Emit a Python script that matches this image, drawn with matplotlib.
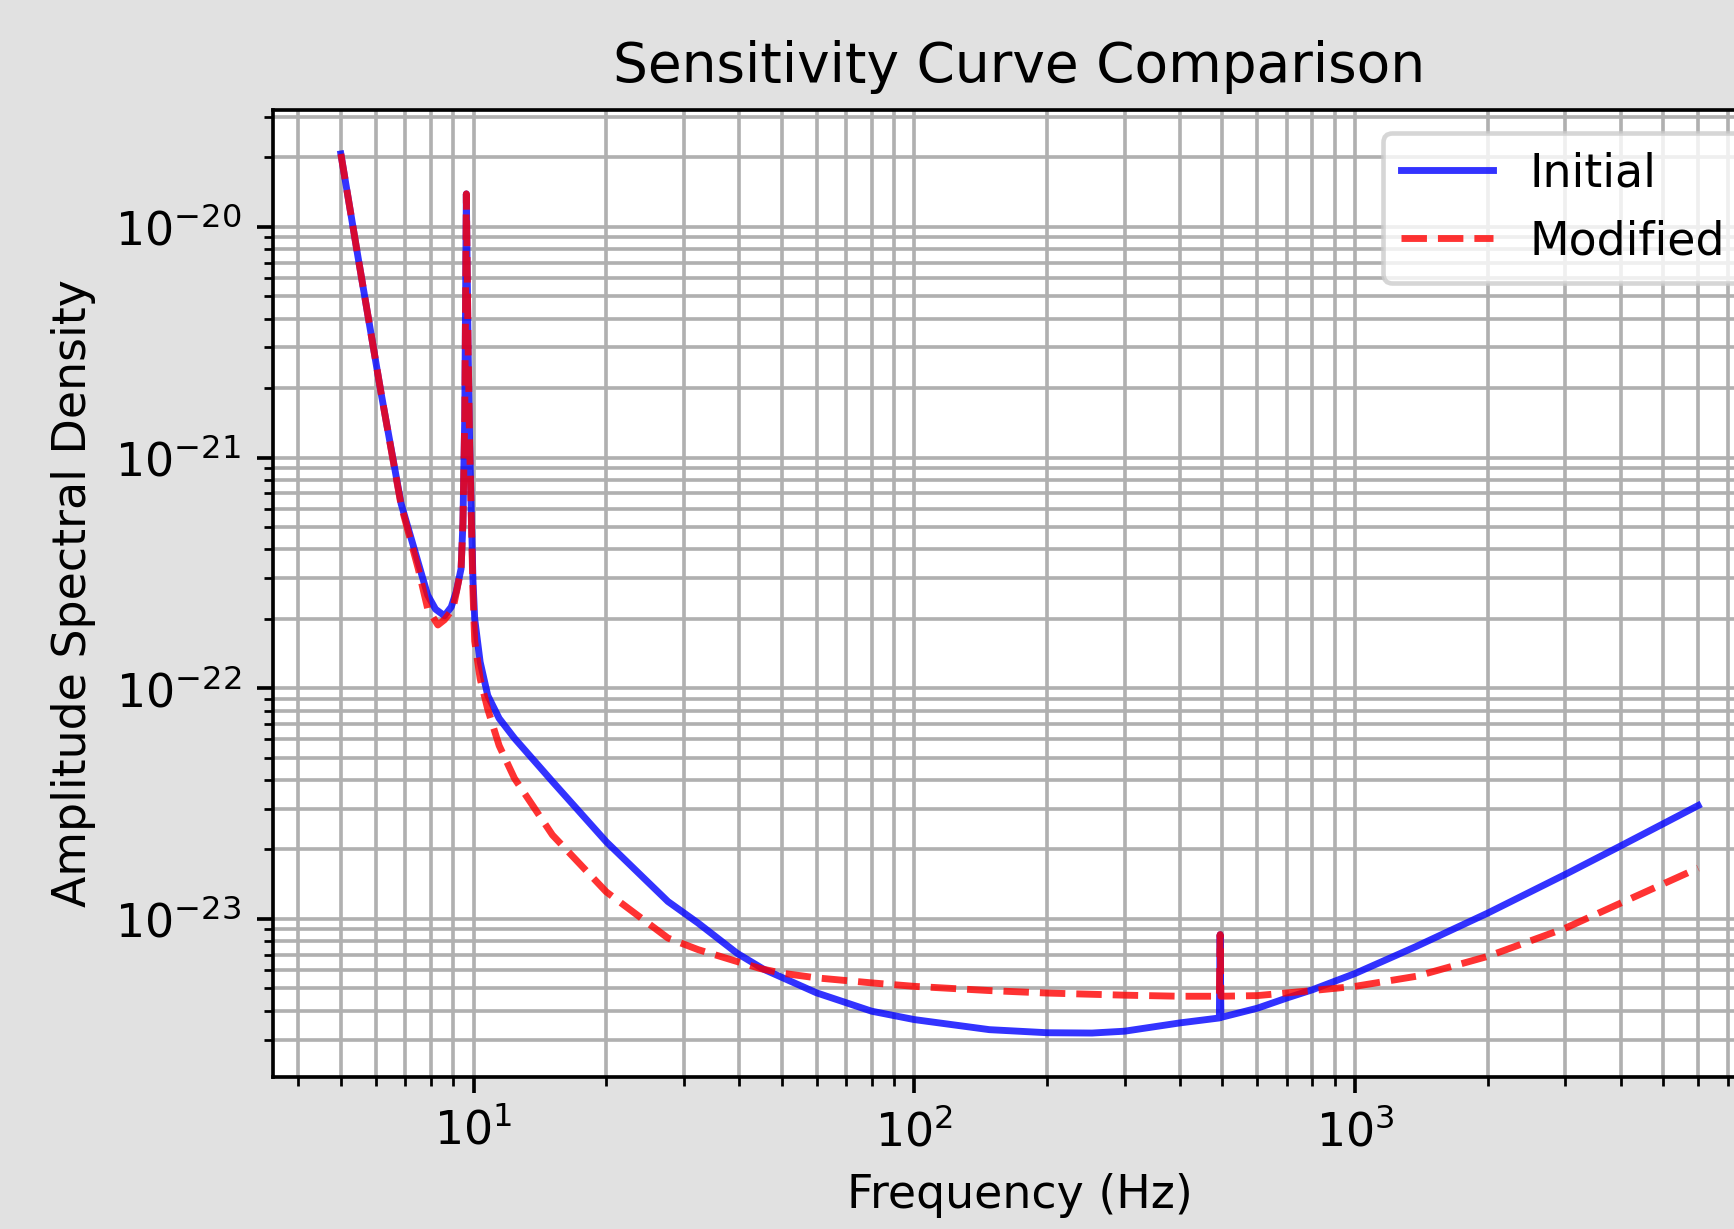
import matplotlib
matplotlib.use("Agg")
import matplotlib.pyplot as plt

# Initial curve: frequencies (Hz) and amplitude spectral density
freq_initial = [5.0, 5.46, 6.17, 6.85, 7.49, 7.87, 8.2, 8.59, 8.9, 9.14, 9.37, 9.46, 9.55,
                9.63, 9.72, 9.8, 9.97, 10.06, 10.35, 10.77, 11.43, 12.38, 15.1, 20.0, 27.6,
                32.3, 39.6, 45.5, 60.0, 80.0, 100.0, 148.0, 200.0, 253.0, 300.0, 400.0,
                492.0, 494.0, 496.0, 600.0, 700.0, 800.0, 1000.0, 1377.0, 2000.0, 3000.0,
                4000.0, 6000.0]
asd_initial = [2.07e-20, 7.53e-21, 1.9e-21, 6.3e-22, 3.5e-22, 2.53e-22, 2.2e-22, 2.06e-22,
               2.25e-22, 2.63e-22, 3.3e-22, 5.2e-22, 1.5e-21, 1.39e-20, 3.0e-21, 1.12e-21,
               2.94e-22, 2.0e-22, 1.30e-22, 9.3e-23, 7.4e-23, 6.07e-23, 3.94e-23, 2.16e-23,
               1.19e-23, 9.6e-24, 7.1e-24, 6.05e-24, 4.78e-24, 3.98e-24, 3.66e-24, 3.31e-24,
               3.21e-24, 3.2e-24, 3.26e-24, 3.54e-24, 3.72e-24, 8.55e-24, 3.74e-24, 4.1e-24,
               4.54e-24, 4.93e-24, 5.8e-24, 7.6e-24, 1.06e-23, 1.56e-23, 2.07e-23, 3.1e-23]

# Modified curve: frequencies (Hz) and amplitude spectral density
freq_modified = [5.0, 5.46, 6.17, 6.85, 7.49, 7.87, 8.3, 8.59, 8.98, 9.14, 9.37, 9.46, 9.55,
                 9.63, 9.72, 9.8, 9.97, 10.06, 10.35, 10.77, 11.43, 12.38, 15.1, 20.0, 27.6,
                 32.3, 40.5, 44.9, 50.0, 60.0, 80.0, 100.0, 148.0, 200.0, 300.0, 400.0,
                 492.0, 494.0, 496.0, 600.0, 800.0, 1000.0, 1377.0, 2000.0, 3000.0, 4000.0,
                 6000.0]
asd_modified = [2.07e-20, 7.53e-21, 1.9e-21, 6.2e-22, 3.3e-22, 2.21e-22, 1.88e-22, 1.98e-22,
                2.21e-22, 2.6e-22, 3.3e-22, 5.2e-22, 1.5e-21, 1.39e-20, 3.0e-21, 1.12e-21,
                2.6e-22, 1.6e-22, 1.1e-22, 8.1e-23, 5.64e-23, 4.07e-23, 2.31e-23, 1.31e-23,
                8.26e-24, 7.36e-24, 6.45e-24, 6.08e-24, 5.82e-24, 5.55e-24, 5.28e-24, 5.1e-24,
                4.89e-24, 4.77e-24, 4.67e-24, 4.62e-24, 4.62e-24, 8.55e-24, 4.62e-24, 4.65e-24,
                4.89e-24, 5.1e-24, 5.64e-24, 6.88e-24, 9.12e-24, 1.17e-23, 1.66e-23]

DPI = 330
fig = plt.figure(figsize=(1734 / DPI, 1229 / DPI), dpi=DPI, facecolor="#e1e1e1")
ax = fig.add_axes([273 / 1734, 152 / 1229, (1766 - 273) / 1734, (1077 - 110) / 1229])
ax.set_facecolor("white")

ax.loglog(freq_initial, asd_initial, color="blue", alpha=0.8, label="Initial")
ax.loglog(freq_modified, asd_modified, color="red", linestyle="--", alpha=0.8, label="Modified")

ax.set_title("Sensitivity Curve Comparison")
ax.set_xlabel("Frequency (Hz)")
ax.set_ylabel("Amplitude Spectral Density")
ax.grid(True, which="both")
ax.legend(loc="upper right")

fig.savefig("out.png", dpi=DPI, facecolor=fig.get_facecolor())
